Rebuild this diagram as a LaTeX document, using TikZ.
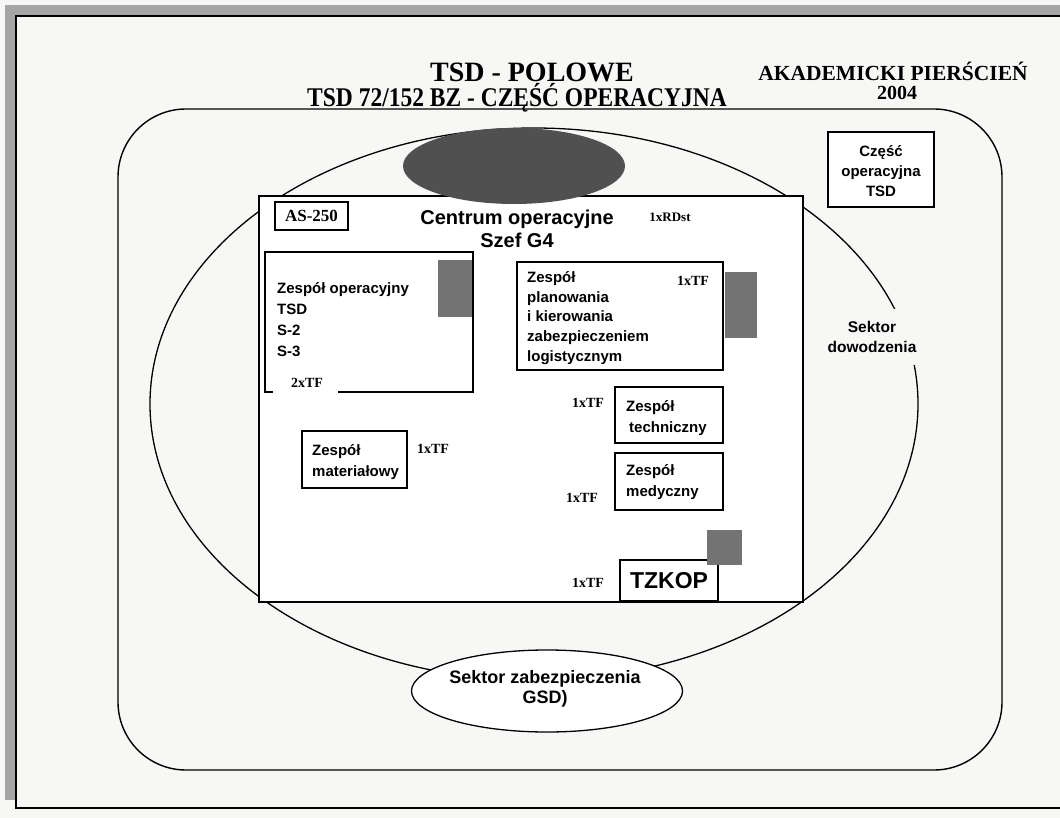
\documentclass[tikz,border=0pt]{standalone}
\usepackage{fontspec}
\setmainfont{Liberation Serif}
\newfontfamily\arial{Liberation Sans}
\usetikzlibrary{shapes.geometric}
\definecolor{paper}{RGB}{247,247,245}
\definecolor{band}{RGB}{165,165,165}
\definecolor{sq}{RGB}{115,115,115}
\definecolor{dark}{RGB}{80,80,80}
\tikzset{
  boxline/.style={draw=black, line width=1.3pt, fill=white},
  lbl/.style={font=\arial\bfseries\fontsize{15}{20.5}\selectfont, align=left, anchor=west, inner sep=0pt},
  clbl/.style={font=\arial\bfseries\fontsize{15}{20}\selectfont, align=center, inner sep=0pt},
  tf/.style={font=\bfseries\fontsize{14}{16}\selectfont, inner sep=0pt},
  sqbox/.style={fill=sq, draw=none},
}
\begin{document}
\begin{tikzpicture}[x=1pt,y=-1pt]
\useasboundingbox (0,0) rectangle (1060,818);
\fill[paper] (0,0) rectangle (1060,818);
% scan frame
\fill[band] (6,5) rectangle (1060,16);
\fill[band] (5,5) rectangle (16,800);
\draw[line width=1.4pt] (1060,16) -- (16,16) -- (16,808) -- (1060,808);
% rounded outer field
\draw[line width=1.4pt, rounded corners=68pt] (118,109) rectangle (1002,770);
% sector ellipse (dowodzenia)
\node[draw, line width=1.3pt, ellipse, minimum width=768pt, minimum height=552pt, inner sep=0pt] (sektorD) at (534,404) {};
% main centre rectangle
\draw[boxline] (259,196) rectangle (803,602);
% dark top ellipse
\node[fill=dark, ellipse, minimum width=222pt, minimum height=76pt, inner sep=0pt] (darkell) at (514,166) {};
% AS-250
\draw[boxline] (275,202) rectangle (348,230);
\node[font=\bfseries\fontsize{17}{19}\selectfont, inner sep=0pt] (as) at (311.5,216) {AS-250};
% Centrum
\node[font=\arial\bfseries\fontsize{20}{23}\selectfont, align=center, inner sep=0pt] (centrum) at (517,229) {Centrum operacyjne\\Szef G4};
\node[tf, font=\bfseries\fontsize{13}{15}\selectfont] (rdst) at (670,217) {1xRDst};
% Zespol operacyjny (open bottom for label)
\fill[white] (265,252) rectangle (473,392);
\draw[line width=1.3pt] (273,392) -- (265,392) -- (265,252) -- (473,252) -- (473,392) -- (338,392);
\node[tf] (tf2) at (307,383) {2xTF};
\fill[sq] (438,260) rectangle (472,317);
\node[lbl, font=\arial\bfseries\fontsize{15}{21}\selectfont] (zop) at (277,320) {Zespół operacyjny\\TSD\\S-2\\S-3};
% Zespol planowania
\draw[boxline] (517,262) rectangle (723,370);
\fill[sq] (725,272) rectangle (757,338);
\node[lbl, font=\arial\bfseries\fontsize{15}{19.8}\selectfont] (zpl) at (527,318) {Zespół\\planowania\\i kierowania\\zabezpieczeniem\\logistycznym};
\node[tf] (tfp) at (693,281) {1xTF};
% Zespol techniczny
\draw[boxline] (615,387) rectangle (723,443);
\node[lbl] (zte) at (626,418) {Zespół\\\hspace*{3pt}techniczny};
\node[tf] (tft) at (588,403) {1xTF};
% Zespol materialowy
\draw[boxline] (302,431) rectangle (407,488);
\node[lbl] (zma) at (312,462) {Zespół\\materiałowy};
\node[tf] (tfm) at (433,449) {1xTF};
% Zespol medyczny
\draw[boxline] (615,453) rectangle (723,510);
\node[lbl] (zme) at (626,482) {Zespół\\medyczny};
\node[tf] (tfd) at (582,498) {1xTF};
% TZKOP
\draw[boxline] (620,560) rectangle (718,601);
\fill[sq] (707,530) rectangle (742,565);
\node[font=\arial\bfseries\fontsize{23}{25}\selectfont, inner sep=0pt] (tzkop) at (669,581) {TZKOP};
\node[tf] (tfk) at (588,583) {1xTF};
% Czesc operacyjna TSD
\draw[boxline] (828,132) rectangle (934,207);
\node[clbl] (czesc) at (881,171) {Część\\operacyjna\\TSD};
% Sektor dowodzenia label (covers the arc)
\node[clbl, font=\arial\bfseries\fontsize{15.5}{20}\selectfont, fill=paper, inner xsep=4pt, inner ysep=12pt] (sdlbl) at (872,337) {Sektor\\dowodzenia};
% Sektor zabezpieczenia
\node[draw, line width=1.3pt, fill=white, ellipse, minimum width=271pt, minimum height=82pt, inner sep=0pt] (sz) at (547,691) {};
\node[clbl, font=\arial\bfseries\fontsize{18}{20}\selectfont] (szlbl) at (545,689) {Sektor zabezpieczenia\\GSD)};
% titles
\node[font=\bfseries\fontsize{28}{30}\selectfont, inner sep=0pt] (t1) at (532,72) {TSD - POLOWE};
\node[inner sep=0pt] (t2) at (517,97.5) {\scalebox{0.87}[1]{\bfseries\fontsize{27}{29}\selectfont TSD 72/152 BZ - CZĘŚĆ OPERACYJNA}};
\node[font=\bfseries\fontsize{21.5}{24}\selectfont, inner sep=0pt] (t3) at (893,71) {AKADEMICKI PIERŚCIEŃ};
\node[font=\bfseries\fontsize{20}{22}\selectfont, inner sep=0pt] (t4) at (897,93) {2004};
\end{tikzpicture}
\end{document}
